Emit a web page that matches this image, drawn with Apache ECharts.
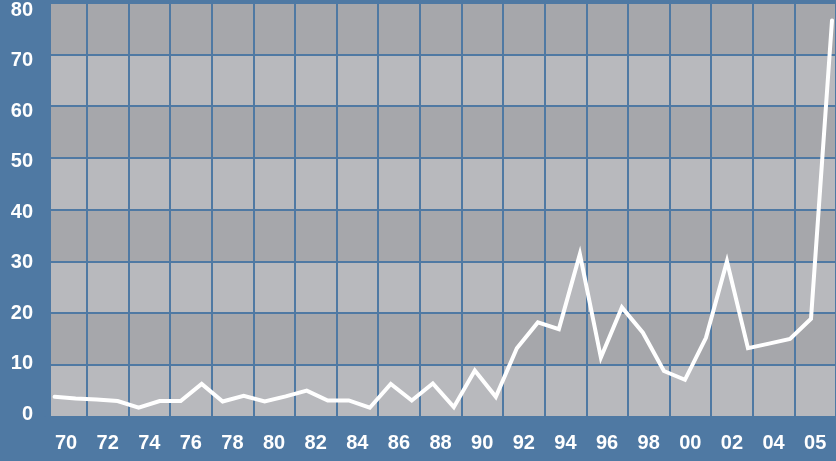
<!DOCTYPE html>
<html>
<head>
<meta charset="utf-8">
<script src="https://cdn.jsdelivr.net/npm/echarts@6/dist/echarts.min.js"></script>
<style>
html,body{margin:0;padding:0;background:#4f79a3;}
#c{width:836px;height:461px;}
</style>
</head>
<body>
<div id="c"></div>
<script>
const years = [1968,1969,1970,1971,1972,1973,1974,1975,1976,1977,1978,1979,1980,1981,1982,1983,1984,1985,1986,1987,1988,1989,1990,1991,1992,1993,1994,1995,1996,1997,1998,1999,2000,2001,2002,2003,2004,2005];
const values = [3.8,3.5,3.3,3.0,1.7,3.0,3.0,6.3,2.9,4.0,2.9,3.9,5.0,3.1,3.1,1.7,6.3,3.1,6.4,1.8,8.9,3.8,13.2,18.2,16.9,31.4,11.4,21.1,16.2,8.8,7.1,15.2,30.0,13.2,14.1,15.0,18.9,76.6];
const xLabels = ['70','72','74','76','78','80','82','84','86','88','90','92','94','96','98','00','02','04','05'];
const yTicks = [0,10,20,30,40,50,60,70,80];

const BLUE = '#4f79a3';
const chart = echarts.init(document.getElementById('c'), null, {renderer:'canvas'});
const labelFont = {color:'#ffffff', fontSize:20, fontWeight:'bold', fontFamily:'Liberation Sans, Arial, sans-serif'};

chart.setOption({
  backgroundColor: BLUE,
  animation: false,
  grid: [
    {left:51, right:0, top:2.8, bottom:44.5},
    {left:45.2, width:798.4, top:2.8, bottom:44.5},
    {left:51, right:0, top:10, bottom:46.5}
  ],
  xAxis: [
    {gridIndex:0, type:'value', min:1967.829, max:2005.19, show:false},
    {gridIndex:1, type:'category', data:xLabels, boundaryGap:true, z:5,
     axisLine:{show:false}, axisTick:{show:false},
     axisLabel:Object.assign({margin:17, interval:0}, labelFont),
     splitLine:{show:true, interval:0, lineStyle:{color:BLUE, width:2}}},
    {gridIndex:2, type:'value', show:false, min:0, max:1}
  ],
  yAxis: [
    {gridIndex:0, type:'value', min:yTicks[0], max:yTicks[yTicks.length-1], interval:10, z:1,
     axisLine:{show:false}, axisTick:{show:false}, axisLabel:{show:false},
     splitLine:{show:true, lineStyle:{color:BLUE, width:2}},
     splitArea:{show:true, areaStyle:{color:['#b8b9bd','#a6a7ab']}}},
    {gridIndex:1, type:'value', show:false, min:0, max:80},
    {gridIndex:2, type:'value', min:yTicks[0], max:yTicks[yTicks.length-1], interval:10,
     axisLine:{show:false}, axisTick:{show:false}, splitLine:{show:false},
     axisLabel:Object.assign({margin:18}, labelFont)}
  ],
  series: [{
    type:'line',
    xAxisIndex:0, yAxisIndex:0,
    data: years.map((y,i)=>[y, values[i]]),
    showSymbol:false,
    z:10,
    lineStyle:{color:'#ffffff', width:4, join:'miter', cap:'round'}
  }]
});
</script>
</body>
</html>
